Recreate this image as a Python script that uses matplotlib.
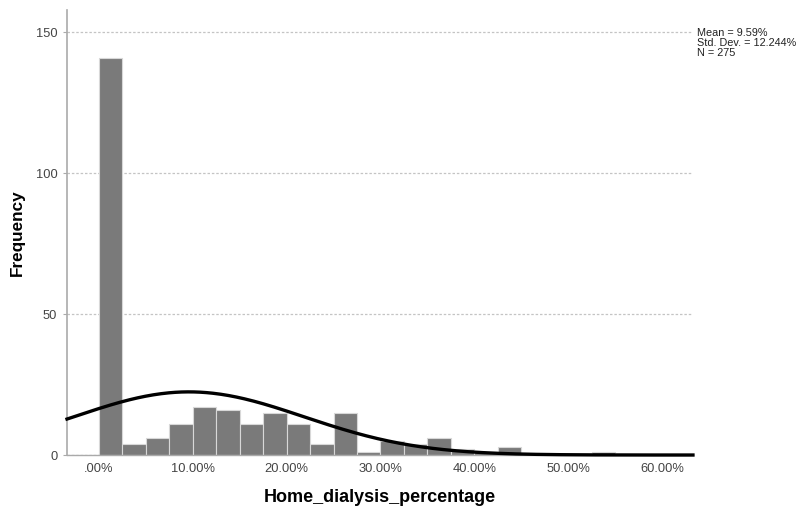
import numpy as np
import matplotlib
matplotlib.use("Agg")
import matplotlib.pyplot as plt

plt.rcParams['font.family'] = ['Liberation Sans', 'DejaVu Sans']

# Data (percent units)
bin_edges = [0, 2.5, 5, 7.5, 10, 12.5, 15, 17.5, 20, 22.5, 25, 27.5, 30, 32.5,
             35, 37.5, 40, 42.5, 45, 47.5, 50, 52.5, 55]
counts = [141, 4, 6, 11, 17, 16, 11, 15, 11, 4, 15, 1, 5, 4,
          6, 2, 1, 3, 0, 0, 0, 1]
mean_val = 9.59
sd_val = 12.244
n_val = 275
xtick_vals = [0, 10, 20, 30, 40, 50, 60]
xtick_labels = [".00%", "10.00%", "20.00%", "30.00%", "40.00%", "50.00%", "60.00%"]
ytick_vals = [0, 50, 100, 150]

fig = plt.figure(figsize=(8.12, 5.12), dpi=100)
ax = fig.add_axes([0.0825, 0.1113, 0.7709, 0.8687])

edges = np.array(bin_edges)
widths = np.diff(edges)
ax.bar(edges[:-1], counts, width=widths, align='edge', color='#7a7a7a',
       edgecolor='#d8d8d8', linewidth=0.8, zorder=2)

xmin, xmax = -3.4, 63.3
xs = np.linspace(xmin, xmax, 400)
bw = widths[0]
ys = n_val * bw * np.exp(-0.5 * ((xs - mean_val) / sd_val) ** 2) / (sd_val * np.sqrt(2 * np.pi))
ax.plot(xs, ys, color='black', linewidth=2.4, zorder=3, clip_on=False)

ax.set_xlim(xmin, xmax)
ax.set_ylim(0, 157.8)
ax.set_xticks(xtick_vals)
ax.set_xticklabels(xtick_labels)
ax.set_yticks(ytick_vals)
ax.tick_params(axis='x', length=0, labelsize=9.3, pad=6)
ax.tick_params(axis='y', length=3, labelsize=9.3, pad=4, color='#aaaaaa')
for lbl in ax.get_xticklabels() + ax.get_yticklabels():
    lbl.set_color('#444444')

ax.grid(axis='y', linestyle=(0, (2, 1.5)), color='#c4c4c4', linewidth=0.9, zorder=1)
for s in ['top', 'right']:
    ax.spines[s].set_visible(False)
ax.spines['left'].set_color('#aaaaaa')
ax.spines['bottom'].set_color('#aaaaaa')
ax.spines['left'].set_linewidth(1.2)
ax.spines['bottom'].set_linewidth(1.0)

ax.set_xlabel("Home_dialysis_percentage", fontsize=13, fontweight='bold', labelpad=10)
ax.set_ylabel("Frequency", fontsize=12.3, fontweight='bold', labelpad=8)

fig.text(697 / 812, 1 - 28 / 512,
         f"Mean = {mean_val:.2f}%\nStd. Dev. = {sd_val:.3f}%\nN = {n_val}",
         fontsize=7.8, va='top', ha='left', color='#222222', linespacing=1.0)

fig.savefig("out.png", dpi=100)
